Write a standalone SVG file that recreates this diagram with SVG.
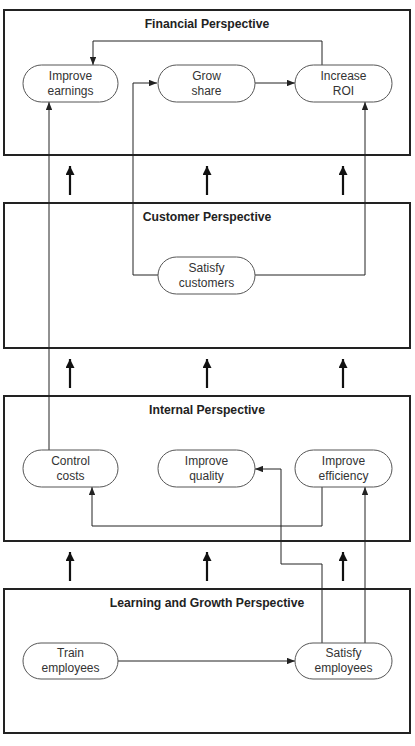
<svg xmlns="http://www.w3.org/2000/svg" width="415" height="746" viewBox="0 0 415 746">
<style>
.box{fill:none;stroke:#222;stroke-width:2}
.title{font-family:"Liberation Sans",Arial,sans-serif;font-weight:bold;font-size:12.2px;fill:#222;text-anchor:middle}
.pill{fill:#fff;stroke:#555;stroke-width:1}
.lbl{font-family:"Liberation Sans",Arial,sans-serif;font-size:12px;fill:#333;text-anchor:middle}
.con{fill:none;stroke:#222;stroke-width:1}
.big{fill:none;stroke:#111;stroke-width:2.2}
</style>
<defs>
<marker id="ah" viewBox="0 0 10 8" refX="10" refY="4" markerWidth="8" markerHeight="6.4" markerUnits="userSpaceOnUse" orient="auto">
<path d="M0,0L10,4L0,8Z" fill="#222"/>
</marker>
<marker id="bh" viewBox="0 0 10 10" refX="10" refY="5" markerWidth="11" markerHeight="9" markerUnits="userSpaceOnUse" orient="auto">
<path d="M0,0L10,5L0,10Z" fill="#111"/>
</marker>
</defs>
<rect width="415" height="746" fill="#fff"/>

<g id="financial">
<rect class="box" x="4" y="10" width="406" height="145"/>
<text class="title" x="207" y="28">Financial Perspective</text>
</g>
<g id="customer">
<rect class="box" x="4" y="203" width="406" height="145"/>
<text class="title" x="207" y="221">Customer Perspective</text>
</g>
<g id="internal">
<rect class="box" x="4" y="396" width="406" height="145"/>
<text class="title" x="207" y="414">Internal Perspective</text>
</g>
<g id="learning">
<rect class="box" x="4" y="589" width="406" height="144"/>
<text class="title" x="207" y="607">Learning and Growth Perspective</text>
</g>

<g id="connectors">
<path class="big" d="M70,195V166" marker-end="url(#bh)"/>
<path class="big" d="M207,195V166" marker-end="url(#bh)"/>
<path class="big" d="M343,195V166" marker-end="url(#bh)"/>
<path class="big" d="M70,388V359" marker-end="url(#bh)"/>
<path class="big" d="M207,388V359" marker-end="url(#bh)"/>
<path class="big" d="M343,388V359" marker-end="url(#bh)"/>
<path class="big" d="M70,581V552" marker-end="url(#bh)"/>
<path class="big" d="M207,581V552" marker-end="url(#bh)"/>
<path class="big" d="M343,581V552" marker-end="url(#bh)"/>

<path class="con" d="M322,65V41H93V65" marker-end="url(#ah)"/>
<path class="con" d="M255,83H295" marker-end="url(#ah)"/>
<path class="con" d="M158,275H133V83H157" marker-end="url(#ah)"/>
<path class="con" d="M255,275H365V102" marker-end="url(#ah)"/>
<path class="con" d="M49,450V102" marker-end="url(#ah)" stroke="#444"/>
<path class="con" d="M322,487V526H92V487" marker-end="url(#ah)"/>
<path class="con" d="M322,643V564H281V469H255" marker-end="url(#ah)"/>
<path class="con" d="M365,643V487" marker-end="url(#ah)" stroke="#444"/>
<path class="con" d="M118,661H295" marker-end="url(#ah)"/>
</g>

<g id="improve-earnings">
<rect class="pill" x="23" y="65" width="95" height="37" rx="18.5"/>
<text class="lbl" x="70.5" y="80">Improve</text>
<text class="lbl" x="70.5" y="95">earnings</text>
</g>
<g id="grow-share">
<rect class="pill" x="158" y="65" width="97" height="37" rx="18.5"/>
<text class="lbl" x="206.5" y="80">Grow</text>
<text class="lbl" x="206.5" y="95">share</text>
</g>
<g id="increase-roi">
<rect class="pill" x="295" y="65" width="97" height="37" rx="18.5"/>
<text class="lbl" x="343.5" y="80">Increase</text>
<text class="lbl" x="343.5" y="95">ROI</text>
</g>
<g id="satisfy-customers">
<rect class="pill" x="158" y="257" width="97" height="37" rx="18.5"/>
<text class="lbl" x="206.5" y="272">Satisfy</text>
<text class="lbl" x="206.5" y="287">customers</text>
</g>
<g id="control-costs">
<rect class="pill" x="23" y="450" width="95" height="37" rx="18.5"/>
<text class="lbl" x="70.5" y="465">Control</text>
<text class="lbl" x="70.5" y="480">costs</text>
</g>
<g id="improve-quality">
<rect class="pill" x="158" y="450" width="97" height="37" rx="18.5"/>
<text class="lbl" x="206.5" y="465">Improve</text>
<text class="lbl" x="206.5" y="480">quality</text>
</g>
<g id="improve-efficiency">
<rect class="pill" x="295" y="450" width="97" height="37" rx="18.5"/>
<text class="lbl" x="343.5" y="465">Improve</text>
<text class="lbl" x="343.5" y="480">efficiency</text>
</g>
<g id="train-employees">
<rect class="pill" x="23" y="643" width="95" height="36" rx="18"/>
<text class="lbl" x="70.5" y="657">Train</text>
<text class="lbl" x="70.5" y="672">employees</text>
</g>
<g id="satisfy-employees">
<rect class="pill" x="295" y="643" width="97" height="36" rx="18"/>
<text class="lbl" x="343.5" y="657">Satisfy</text>
<text class="lbl" x="343.5" y="672">employees</text>
</g>
</svg>
